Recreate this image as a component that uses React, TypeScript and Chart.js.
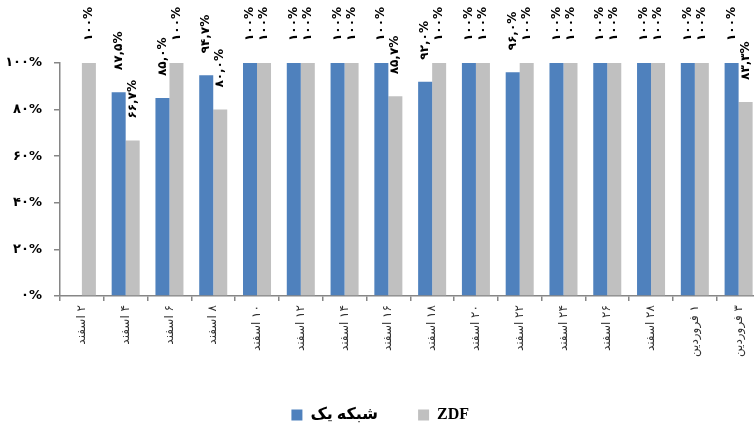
import React, { useEffect, useRef } from "react";
import { Chart, registerables } from "chart.js";

Chart.register(...registerables);

// ---- data ----
const categories = [
  "۲ اسفند", "۴ اسفند", "۶ اسفند", "۸ اسفند", "۱۰ اسفند", "۱۲ اسفند",
  "۱۴ اسفند", "۱۶ اسفند", "۱۸ اسفند", "۲۰ اسفند", "۲۲ اسفند", "۲۴ اسفند",
  "۲۶ اسفند", "۲۸ اسفند", "۱ فروردین", "۳ فروردین",
];
const seriesNames = ["شبکه یک", "ZDF"];
const shabakeYek: (number | null)[] = [
  null, 87.5, 85.0, 94.7, 100, 100, 100, 100, 92.0, 100, 96.0, 100, 100, 100, 100, 100,
];
const zdf: (number | null)[] = [
  100, 66.7, 100, 80.0, 100, 100, 100, 85.7, 100, 100, 100, 100, 100, 100, 100, 83.3,
];
const yTickLabels = ["۰%", "۲۰%", "۴۰%", "۶۰%", "۸۰%", "۱۰۰%"];

const faDigits = "۰۱۲۳۴۵۶۷۸۹";
function toFa(s: string) {
  return s.replace(/[0-9]/g, (d) => faDigits[Number(d)]);
}
function fmt(v: number) {
  if (v === 100) return toFa("100") + "%";
  return toFa(v.toFixed(1).replace(".", ",")) + "%";
}

const barLabels = {
  id: "barLabels",
  afterDatasetsDraw(chart: any) {
    const ctx = chart.ctx;
    ctx.save();
    ctx.font = "bold 12px 'DejaVu Sans'";
    ctx.fillStyle = "#000";
    ctx.textAlign = "left";
    ctx.textBaseline = "middle";
    chart.data.datasets.forEach((ds: any, i: number) => {
      const meta = chart.getDatasetMeta(i);
      meta.data.forEach((el: any, j: number) => {
        const v = ds.data[j];
        if (v == null) return;
        ctx.save();
        ctx.translate(el.x, el.y - 22);
        ctx.rotate(-Math.PI / 2);
        ctx.fillText(fmt(v), 0, 0);
        ctx.restore();
      });
    });
    ctx.restore();
  },
};

export default function App() {
  const ref = useRef<HTMLCanvasElement | null>(null);
  useEffect(() => {
    if (!ref.current) return;
    const chart = new Chart(ref.current, {
      type: "bar",
      data: {
        labels: categories,
        datasets: [
          { label: seriesNames[0], data: shabakeYek as any, backgroundColor: "#4F81BD", categoryPercentage: 0.64, barPercentage: 1 },
          { label: seriesNames[1], data: zdf as any, backgroundColor: "#C0C0C0", categoryPercentage: 0.64, barPercentage: 1 },
        ],
      },
      options: {
        responsive: false,
        animation: false,
        devicePixelRatio: 1,
        events: [],
        layout: { padding: { top: 63, right: 19.5, left: 0, bottom: -3 } },
        plugins: {
          tooltip: { enabled: false },
          legend: {
            position: "bottom",
            labels: {
              boxWidth: 11,
              boxHeight: 11,
              padding: 40,
              color: "#000",
              font: { family: "'Liberation Serif', 'DejaVu Sans', serif", size: 16, weight: "bold" },
            },
          },
        },
        scales: {
          x: {
            afterFit: (s: any) => { s.height = 71; },
            border: { color: "#868686", width: 1.5 },
            grid: { drawOnChartArea: false, tickLength: 5, color: "#868686", lineWidth: 1.5, offset: true },
            ticks: {
              minRotation: 90,
              maxRotation: 90,
              autoSkip: false,
              padding: 4,
              color: "#333",
              font: { family: "'DejaVu Sans'", size: 12 },
              callback: (_v: any, i: number) => "\u200F" + categories[i],
            },
          },
          y: {
            min: 0,
            max: 100,
            afterFit: (s: any) => { s.width = 60; },
            border: { color: "#868686", width: 1.5 },
            grid: { drawOnChartArea: false, tickLength: 6, color: "#868686", lineWidth: 1.5 },
            ticks: {
              stepSize: 20,
              padding: 12,
              color: "#000",
              font: { family: "'DejaVu Sans'", size: 13, weight: "bold" },
              callback: (v: any) => yTickLabels[Math.round(Number(v) / 20)],
            },
          },
        },
      },
      plugins: [barLabels],
    });
    return () => chart.destroy();
  }, []);

  return (
    <div style={{ position: "fixed", left: 0, top: 0, width: 754, height: 430, overflow: "hidden", background: "#fff" }}>
      <canvas ref={ref} width={780} height={430} style={{ display: "block", width: 780, height: 430 }} />
    </div>
  );
}
